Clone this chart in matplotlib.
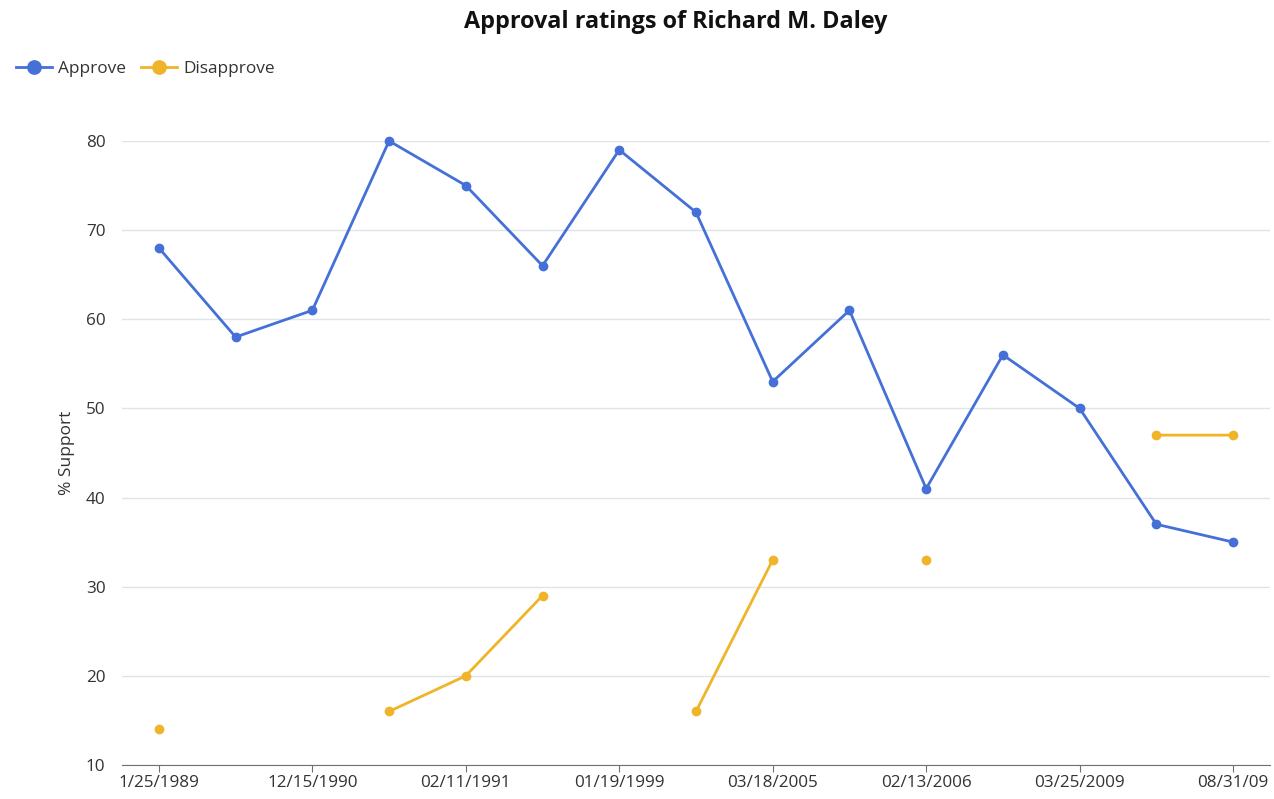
import matplotlib

matplotlib.use("Agg")
import matplotlib.pyplot as plt
import numpy as np

plt.rcParams["font.family"] = ["Open Sans", "DejaVu Sans"]

# poll dates shown on the axis (every second poll is labelled)
shown_labels = ["1/25/1989", "12/15/1990", "02/11/1991", "01/19/1999",
                "03/18/2005", "02/13/2006", "03/25/2009", "08/31/09"]
approve = [68, 58, 61, 80, 75, 66, 79, 72, 53, 61, 41, 56, 50, 37, 35]
disapprove = [14, None, None, 16, 20, 29, None, 16, 33, None, 33, None, None, 47, 47]

BLUE = "#4470d8"
GOLD = "#f0b429"


def main():
    n = len(approve)
    x = np.arange(n)
    dis = np.array([np.nan if v is None else v for v in disapprove], dtype=float)

    fig = plt.figure(figsize=(12.74, 7.99), dpi=100)
    ax = fig.add_axes([0.0958, 0.0426, 0.901, 0.781])

    ax.plot(x, approve, color=BLUE, lw=2, marker="o", ms=6, label="Approve",
            clip_on=False, zorder=3)
    ax.plot(x, dis, color=GOLD, lw=2, marker="o", ms=6, label="Disapprove",
            clip_on=False, zorder=3)

    ax.set_xlim(-0.48, n - 0.52)
    ax.set_ylim(10, 80)
    ax.set_yticks(np.arange(10, 81, 10))
    ax.set_xticks(x[::2])
    ax.set_xticklabels(shown_labels)

    ax.grid(axis="y", color="#e0e3ea", lw=1)
    ax.set_axisbelow(True)
    for s in ("top", "right", "left"):
        ax.spines[s].set_visible(False)
    ax.spines["bottom"].set_color("#6e7079")
    ax.tick_params(axis="y", length=0, labelsize=12.3, colors="#333333", pad=12)
    ax.tick_params(axis="x", length=5, color="#6e7079", labelsize=12.3,
                   labelcolor="#333333", pad=2)

    ax.set_ylabel("% Support", fontsize=12.5, color="#333333", labelpad=8)

    fig.text(0.53, 0.972, "Approval ratings of Richard M. Daley", ha="center",
             va="center", fontsize=16.8, fontweight="bold", color="#111111")
    leg = fig.legend(loc="center left", bbox_to_anchor=(0.0, 0.914), ncol=2,
                     frameon=False, fontsize=12.4, handlelength=2.1,
                     handletextpad=0.35, columnspacing=0.9, markerscale=1.6)
    for t in leg.get_texts():
        t.set_color("#333333")

    fig.savefig("out.png", dpi=100)


if __name__ == "__main__":
    main()
